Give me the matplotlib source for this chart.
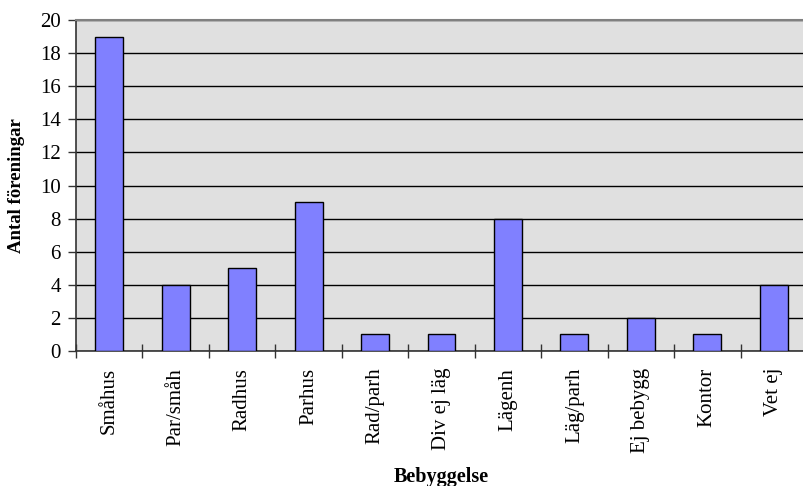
import matplotlib.pyplot as plt
import numpy as np

plt.rcParams['font.family'] = ['Liberation Serif', 'DejaVu Serif']

categories = ["Småhus", "Par/småh", "Radhus", "Parhus", "Rad/parh", "Div ej läg",
              "Lägenh", "Läg/parh", "Ej bebygg", "Kontor", "Vet ej"]
counts = [19, 4, 5, 9, 1, 1, 8, 1, 2, 1, 4]
y_ticks = list(range(0, 21, 2))

fig = plt.figure(figsize=(8.04, 4.86), dpi=100)
# plot area runs a little past the right edge, as in the original
ax = fig.add_axes([76 / 804, 1 - 351 / 486, 731 / 804, 331 / 486])
ax.set_facecolor('#e0e0e0')

x = np.arange(len(categories))
ax.bar(x, counts, width=0.42, color='#8080ff', edgecolor='black', linewidth=1, zorder=3)

ax.set_xlim(-0.5, len(categories) - 0.5)
ax.set_ylim(0, 20)
ax.set_yticks(y_ticks)
ax.yaxis.grid(True, color='black', linewidth=1, zorder=1)
ax.set_axisbelow(True)

# category ticks sit between the bars
ax.set_xticks(np.arange(len(categories) + 1) - 0.5, minor=False)
ax.set_xticklabels([])
ax.set_xticks(x, minor=True)
ax.set_xticklabels(categories, minor=True, rotation=90, fontsize=15)
ax.tick_params(axis='x', which='major', direction='inout', length=9.5, width=1, color='#333333')
ax.tick_params(axis='x', which='minor', length=0, pad=12)
ax.tick_params(axis='y', direction='out', length=6, width=1, pad=5, labelsize=15, color='#333333')

for side in ['left', 'bottom']:
    ax.spines[side].set_color('#333333')
    ax.spines[side].set_linewidth(1.2)
ax.spines['top'].set_color('#808080')
ax.spines['top'].set_linewidth(1.5)
ax.spines['right'].set_visible(False)

ax.set_ylabel('Antal föreningar', fontsize=13.5, fontweight='bold', labelpad=11)
ax.set_xlabel('Bebyggelse', fontsize=14.5, fontweight='bold', labelpad=10)

fig.savefig('out.png', dpi=100)
